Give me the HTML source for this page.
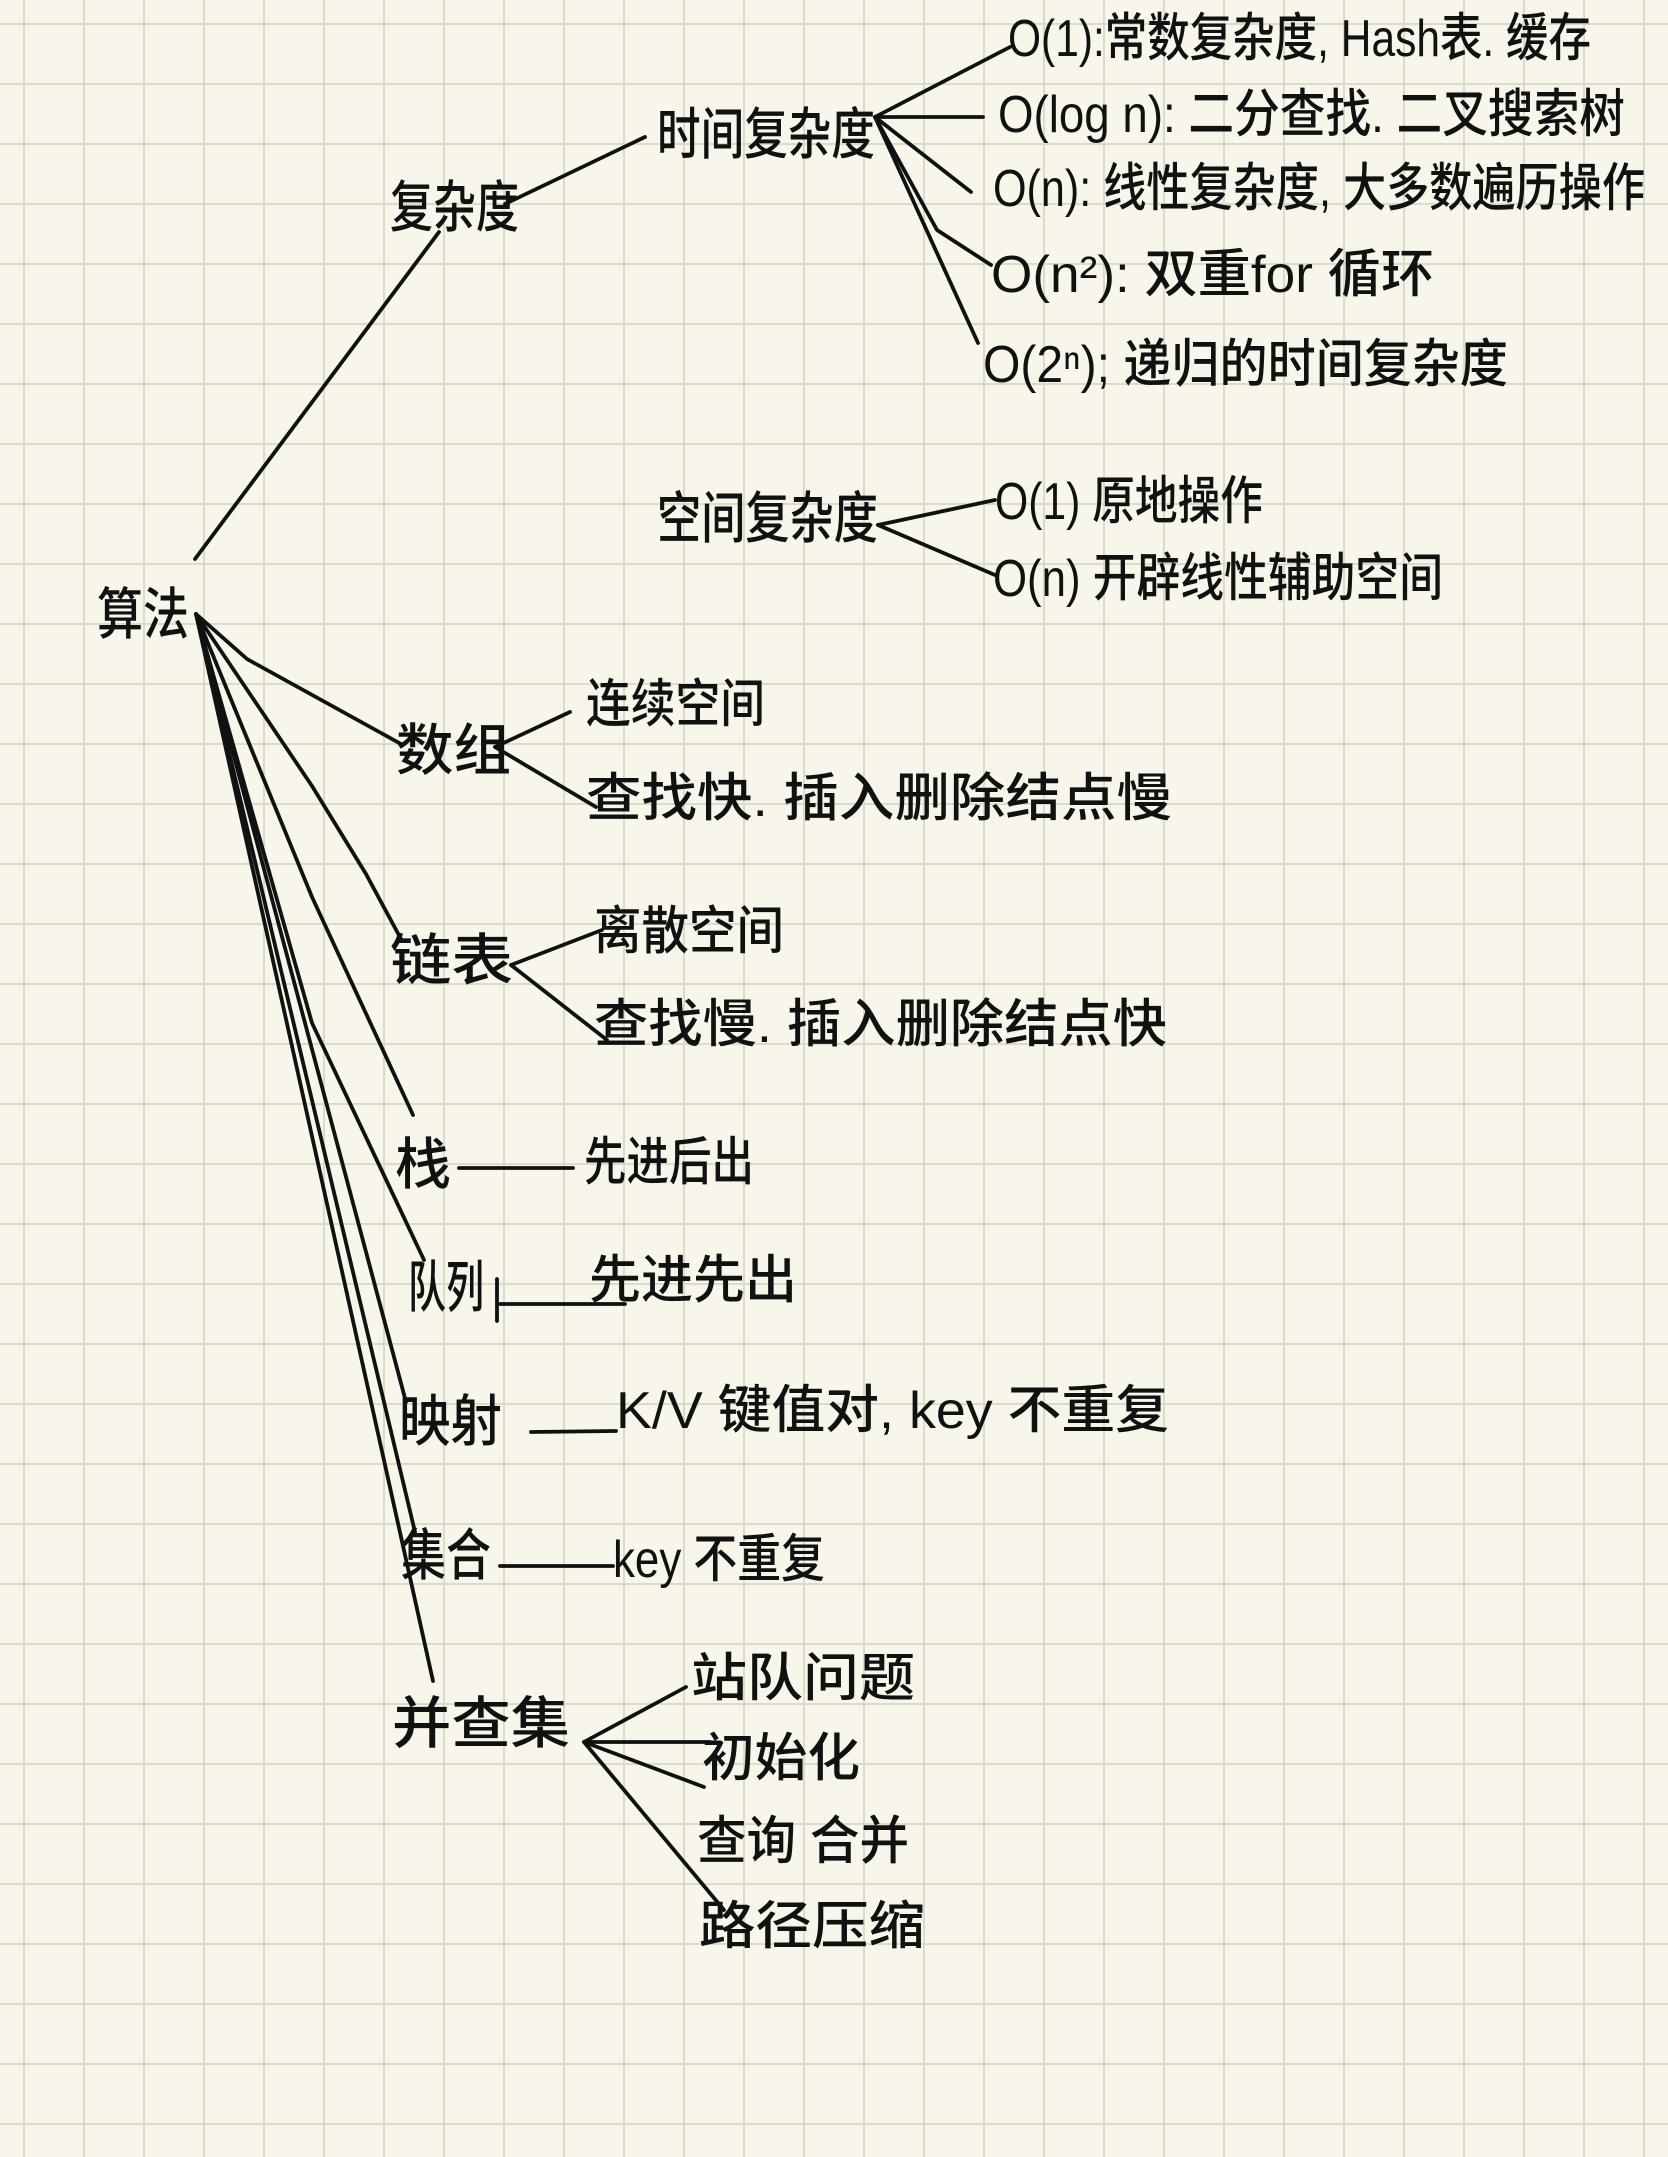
<!DOCTYPE html>
<html><head><meta charset="utf-8">
<style>
html,body{margin:0;padding:0;background:#f8f6ea;}
svg{display:block;}
text{font-family:"Liberation Sans","Noto Sans CJK SC",sans-serif;fill:#111;font-weight:500;}
</style></head>
<body>
<svg width="1668" height="2157" viewBox="0 0 1668 2157" xmlns="http://www.w3.org/2000/svg">
<defs>
<pattern id="g" x="0" y="0" width="60" height="60" patternUnits="userSpaceOnUse">
<path d="M0 24H60M24 0V60" stroke="#dcdacb" stroke-width="2" fill="none"/>
</pattern>
</defs>
<rect width="1668" height="2157" fill="#f8f6ea"/>
<rect width="1668" height="2157" fill="url(#g)"/>

<g stroke="#111" stroke-width="3.8" fill="none" stroke-linecap="round" stroke-linejoin="round">
<line x1="195" y1="559" x2="439" y2="232"/>
<line x1="505" y1="204" x2="645" y2="137"/>
<line x1="875" y1="117" x2="1010" y2="47"/>
<line x1="875" y1="117" x2="983" y2="117"/>
<line x1="875" y1="117" x2="971" y2="192"/>
<polyline points="875,117 937,230 991,265"/>
<line x1="875" y1="117" x2="978" y2="343"/>
<line x1="878" y1="525" x2="995" y2="500"/>
<line x1="878" y1="525" x2="995" y2="575"/>
<polyline points="196,614 247,659 401,744"/>
<polyline points="196,614 312,786 366,874 401,939"/>
<polyline points="196,614 312,897 413,1115"/>
<polyline points="196,614 312,1023 424,1260"/>
<line x1="196" y1="614" x2="406" y2="1402"/>
<line x1="196" y1="614" x2="415" y2="1532"/>
<line x1="196" y1="614" x2="433" y2="1681"/>
<line x1="495" y1="747" x2="570" y2="712"/>
<line x1="495" y1="747" x2="596" y2="807"/>
<line x1="511" y1="965" x2="602" y2="930"/>
<line x1="511" y1="965" x2="607" y2="1040"/>
<line x1="459" y1="1168" x2="573" y2="1168"/>
<line x1="497" y1="1279" x2="497" y2="1321"/>
<line x1="500" y1="1304" x2="625" y2="1304"/>
<line x1="531" y1="1432" x2="616" y2="1431"/>
<line x1="500" y1="1566" x2="613" y2="1566"/>
<line x1="584" y1="1742" x2="686" y2="1687"/>
<line x1="584" y1="1742" x2="710" y2="1742"/>
<line x1="584" y1="1742" x2="704" y2="1787"/>
<line x1="584" y1="1742" x2="724" y2="1910"/>
</g>

<g font-size="56">
<text x="97" y="634" textLength="92" lengthAdjust="spacingAndGlyphs">算法</text>
<text x="390" y="227" textLength="129" lengthAdjust="spacingAndGlyphs">复杂度</text>
<text x="657" y="154" textLength="218" lengthAdjust="spacingAndGlyphs">时间复杂度</text>
<text x="657" y="538" textLength="221" lengthAdjust="spacingAndGlyphs">空间复杂度</text>
<text x="396" y="770" textLength="115" lengthAdjust="spacingAndGlyphs">数组</text>
<text x="390" y="980" textLength="123" lengthAdjust="spacingAndGlyphs">链表</text>
<text x="395" y="1184" textLength="56" lengthAdjust="spacingAndGlyphs">栈</text>
<text x="408" y="1307" textLength="76" lengthAdjust="spacingAndGlyphs">队列</text>
<text x="399" y="1441" textLength="103" lengthAdjust="spacingAndGlyphs">映射</text>
<text x="401" y="1575" textLength="90" lengthAdjust="spacingAndGlyphs">集合</text>
<text x="392" y="1743" textLength="178" lengthAdjust="spacingAndGlyphs">并查集</text>
</g>

<g font-size="52">
<text x="1008" y="56" textLength="583" lengthAdjust="spacingAndGlyphs">O(1):常数复杂度, Hash表. 缓存</text>
<text x="998" y="132" textLength="627" lengthAdjust="spacingAndGlyphs">O(log n):  二分查找. 二叉搜索树</text>
<text x="993" y="206" textLength="652" lengthAdjust="spacingAndGlyphs">O(n): 线性复杂度, 大多数遍历操作</text>
<text x="991" y="292" textLength="443" lengthAdjust="spacingAndGlyphs">O(n²):  双重for 循环</text>
<text x="983" y="382" textLength="525" lengthAdjust="spacingAndGlyphs">O(2ⁿ); 递归的时间复杂度</text>
<text x="995" y="519" textLength="268" lengthAdjust="spacingAndGlyphs">O(1) 原地操作</text>
<text x="993" y="596" textLength="450" lengthAdjust="spacingAndGlyphs">O(n) 开辟线性辅助空间</text>
<text x="586" y="722" textLength="179" lengthAdjust="spacingAndGlyphs">连续空间</text>
<text x="586" y="816" textLength="586" lengthAdjust="spacingAndGlyphs">查找快. 插入删除结点慢</text>
<text x="594" y="949" textLength="190" lengthAdjust="spacingAndGlyphs">离散空间</text>
<text x="594" y="1042" textLength="573" lengthAdjust="spacingAndGlyphs">查找慢. 插入删除结点快</text>
<text x="584" y="1180" textLength="170" lengthAdjust="spacingAndGlyphs">先进后出</text>
<text x="589" y="1298" textLength="208" lengthAdjust="spacingAndGlyphs">先进先出</text>
<text x="616" y="1428" textLength="553" lengthAdjust="spacingAndGlyphs">K/V 键值对,  key 不重复</text>
<text x="613" y="1577" textLength="212" lengthAdjust="spacingAndGlyphs">key 不重复</text>
<text x="691" y="1696" textLength="224" lengthAdjust="spacingAndGlyphs">站队问题</text>
<text x="702" y="1776" textLength="158" lengthAdjust="spacingAndGlyphs">初始化</text>
<text x="697" y="1859" textLength="212" lengthAdjust="spacingAndGlyphs">查询 合并</text>
<text x="699" y="1944" textLength="226" lengthAdjust="spacingAndGlyphs">路径压缩</text>
</g>
</svg>
</body></html>
